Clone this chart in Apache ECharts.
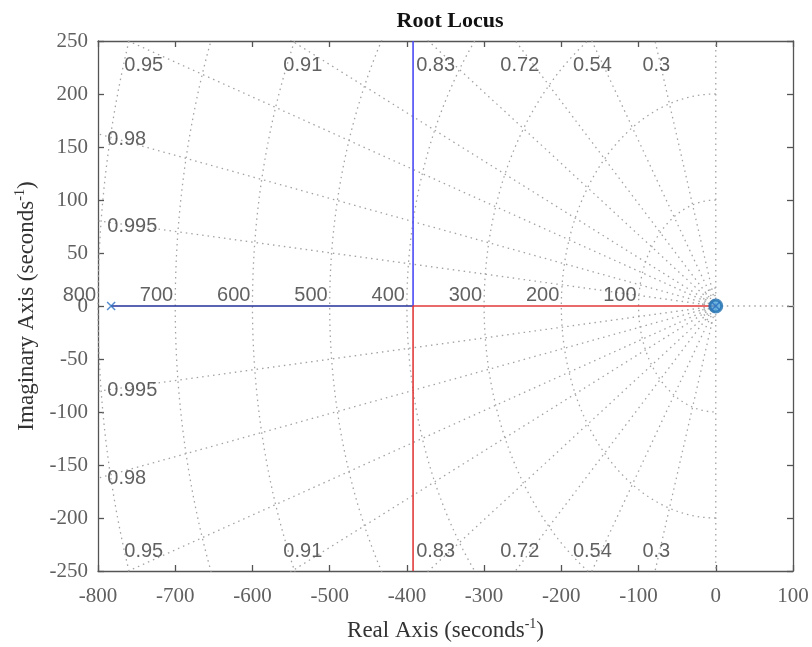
<!DOCTYPE html>
<html><head><meta charset="utf-8">
<script src="https://cdn.jsdelivr.net/npm/echarts@6/dist/echarts.min.js"></script>
<style>html,body{margin:0;padding:0;background:#fff}#c{width:812px;height:647px}</style>
</head><body><div id="c"></div>
<script>
// ---- data ----
const xTicks = [-800,-700,-600,-500,-400,-300,-200,-100,0,100];
const yTicks = [-250,-200,-150,-100,-50,0,50,100,150,200,250];
const dampingRatios = [0.3,0.54,0.72,0.83,0.91,0.95,0.98,0.995];
const naturalFreqs = [100,200,300,400,500,600,700,800];
const smallFreqs = [10,17];
const poles = [[-783,0],[0,0]];
const zeros = [[0,0]];
const blueLocusReal = [[-783,0],[-392,0]];
const blueLocusImag = [[-392,0],[-392,250]];
const redLocus = [[0,0],[-392,0],[-392,-250]];
// damping label anchors (left edge, vertical centre)
const dampLabelTop = [[-95,227,'0.3'],[-185,227,'0.54'],[-279,227,'0.72'],[-388,227,'0.83'],[-560,227,'0.91'],[-766,227,'0.95']];
const dampLabelBottom = [[-95,-232,'0.3'],[-185,-232,'0.54'],[-279,-232,'0.72'],[-388,-232,'0.83'],[-560,-232,'0.91'],[-766,-232,'0.95']];
const dampLabelLeft = [[-788,157,'0.98'],[-788,75,'0.995'],[-788,-80,'0.995'],[-788,-163,'0.98']];

// ---- grid geometry ----
const gridSeries = [];
const dotted = {color:'#a3a3a3', width:1.3, type:[1.5,4]};
dampingRatios.forEach(z => {
  const s = Math.sqrt(1-z*z), R = 2000;
  gridSeries.push({type:'line', data:[[0,0],[-R*z,R*s]], symbol:'none', lineStyle:dotted, silent:true, z:1});
  gridSeries.push({type:'line', data:[[0,0],[-R*z,-R*s]], symbol:'none', lineStyle:dotted, silent:true, z:1});
});
naturalFreqs.concat(smallFreqs).forEach(w => {
  const pts = [];
  for (let a = 90; a <= 270; a += 1) {
    const t = a*Math.PI/180;
    pts.push([w*Math.cos(t), w*Math.sin(t)]);
  }
  gridSeries.push({type:'line', data:pts, symbol:'none', lineStyle:dotted, silent:true, z:1});
});
gridSeries.push({type:'line', data:[[0,-1000],[0,1000]], symbol:'none', lineStyle:dotted, silent:true, z:1});
gridSeries.push({type:'line', data:[[0,0],[1000,0]], symbol:'none', lineStyle:dotted, silent:true, z:1});

const labelFont = {fontFamily:'Liberation Sans, Arial, sans-serif', fontSize:20, color:'#3a3a3a'};
function labelSeries(arr){
  return {type:'scatter', data:arr.map(d=>[d[0],d[1],d[2]]), symbolSize:0, clip:false, silent:true, z:3,
    label:{show:true, position:'right', distance:0, formatter:p=>p.data[2], ...labelFont}};
}

const chart = echarts.init(document.getElementById('c'), null, {renderer:'canvas'});
const serif = 'Liberation Serif, Times New Roman, serif';
const serifTick = {fontFamily:serif, fontSize:21, color:'#606060'};
const axCommon = {
  axisLine:{show:true, onZero:false, lineStyle:{color:'#555', width:1.3}},
  axisTick:{show:true, inside:true, length:6, lineStyle:{color:'#555', width:1.3}},
  splitLine:{show:false}
};
const nameStyle = {fontFamily:serif, fontSize:23, color:'#333',
  rich:{sup:{fontFamily:serif, fontSize:14, color:'#333', padding:[0,0,13,0]}}};
chart.setOption({
  animation:false,
  backgroundColor:'#fff',
  title:{text:'Root Locus', left:445, top:5, textAlign:'center',
    textStyle:{fontFamily:serif, fontWeight:'bold', fontSize:22, color:'#111'}},
  grid:{left:98, right:19, top:41, bottom:75},
  xAxis:[
    {type:'value', min:-800, max:100, interval:100, position:'bottom', ...axCommon,
     axisLabel:{...serifTick, margin:15},
     name:'Real Axis (seconds{sup|-1})', nameLocation:'middle', nameGap:46, nameTextStyle:nameStyle},
    {type:'value', min:-800, max:100, interval:100, position:'top', ...axCommon, axisLabel:{show:false}}
  ],
  yAxis:[
    {type:'value', min:-250, max:250, interval:50, position:'left', ...axCommon,
     axisLabel:{...serifTick, margin:10},
     name:'Imaginary Axis (seconds{sup|-1})', nameLocation:'middle', nameGap:53, nameRotate:90,
     nameTextStyle:nameStyle},
    {type:'value', min:-250, max:250, interval:50, position:'right', ...axCommon, axisLabel:{show:false}}
  ],
  series: gridSeries.concat([
    labelSeries(dampLabelTop), labelSeries(dampLabelBottom), labelSeries(dampLabelLeft),
    {type:'scatter', data:naturalFreqs.map(w=>[-w,0,String(w)]), symbolSize:0, clip:false, silent:true, z:3,
     label:{show:true, position:'left', distance:2, offset:[0,-11], formatter:p=>p.data[2], ...labelFont}},
    {type:'line', data:blueLocusReal, symbol:'none', lineStyle:{color:'#23309a', width:1.6}, z:4},
    {type:'line', data:blueLocusImag, symbol:'none', lineStyle:{color:'#4a4af5', width:1.6}, z:4},
    {type:'line', data:redLocus, symbol:'none', lineStyle:{color:'#e23a3a', width:1.6}, z:4},
    {type:'scatter', data:zeros, symbol:'circle', symbolSize:12, z:5,
     itemStyle:{color:'#4aa3d8', borderColor:'#1f6fb0', borderWidth:3}},
    {type:'scatter', data:poles, symbol:'path://M0,0L10,10M10,0L0,10', symbolSize:8, z:6,
     itemStyle:{color:'none', borderColor:'#2a6fc0', borderWidth:1.5}}
  ])
});
</script></body></html>
